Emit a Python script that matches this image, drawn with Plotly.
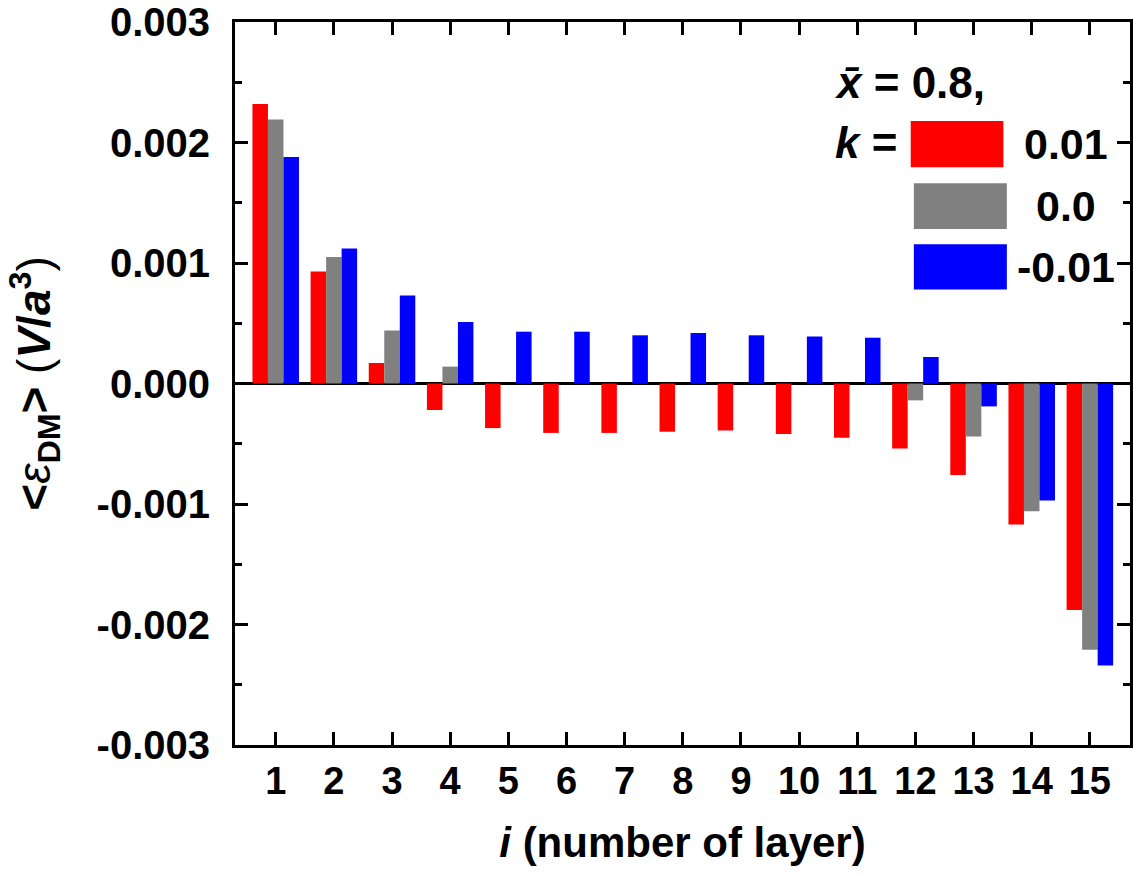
import plotly.graph_objects as go

layers = list(range(1, 16))
k_labels = ["0.01", "0.0", "-0.01"]
colors = ["#FF0000", "#808080", "#0000FF"]

e_k_p001 = [0.00232, 0.00093, 0.00017, -0.00022, -0.00037, -0.00041, -0.00041, -0.00040,
            -0.00039, -0.00042, -0.00045, -0.00054, -0.00076, -0.00117, -0.00188]
e_k_0 = [0.00219, 0.00105, 0.00044, 0.00014, 0.0, 0.0, 0.0, 0.0,
         0.0, 0.0, 0.0, -0.00014, -0.00044, -0.00106, -0.00221]
e_k_m001 = [0.00188, 0.00112, 0.00073, 0.00051, 0.00043, 0.00043, 0.00040, 0.00042,
            0.00040, 0.00039, 0.00038, 0.00022, -0.00019, -0.00097, -0.00234]
series = [e_k_p001, e_k_0, e_k_m001]

y_ticks = [-0.003, -0.002, -0.001, 0.0, 0.001, 0.002, 0.003]
y_ticktext = ["-0.003", "-0.002", "-0.001", "0.000", "0.001", "0.002", "0.003"]

FONT = "Liberation Sans, Arial, sans-serif"

fig = go.Figure()
for vals, c, name in zip(series, colors, k_labels):
    fig.add_trace(go.Bar(x=layers, y=vals, name=name, marker=dict(color=c, line=dict(width=0)),
                         showlegend=False))

fig.update_layout(
    width=1133, height=877,
    margin=dict(l=235, r=0, t=22, b=132),
    paper_bgcolor="white", plot_bgcolor="white",
    barmode="group", bargap=0.2, bargroupgap=0,
    font=dict(family=FONT, color="black"),
)

fig.update_xaxes(
    range=[0.3, 15.69], tickmode="array", tickvals=layers, ticktext=[str(v) for v in layers],
    showline=True, linecolor="black", linewidth=3, mirror="ticks",
    ticks="inside", ticklen=13, tickwidth=3, tickcolor="black",
    tickfont=dict(size=38, family=FONT, weight="bold"),
    ticklabelstandoff=0,
    showgrid=False, zeroline=False,
    title=dict(text="<i>i</i> (number of layer)", font=dict(size=42, family=FONT, weight="bold"), standoff=28),
)

fig.update_yaxes(
    range=[-0.003, 0.003], tickmode="array", tickvals=y_ticks, ticktext=y_ticktext,
    showline=True, linecolor="black", linewidth=3, mirror="ticks",
    ticks="inside", ticklen=13, tickwidth=3, tickcolor="black",
    minor=dict(dtick=0.0005, ticks="inside", ticklen=7, tickwidth=3, tickcolor="black", showgrid=False),
    tickfont=dict(size=40, family=FONT, weight="bold"),
    ticklabelstandoff=14,
    showgrid=False, zeroline=True, zerolinecolor="black", zerolinewidth=3,
    title=dict(text="<b>&lt;</b><i>ε</i><sub><b>DM</b></sub><b>&gt;</b> (<b><i>V</i>/<i>a</i></b><sup><b>3</b></sup>)",
               font=dict(size=46, family=FONT, weight="normal"), standoff=32),
)

# legend-like block drawn in paper coordinates
swatch_x = [0.755, 0.7585, 0.7585]
swatch_x1 = [0.8585, 0.8624, 0.8624]
swatch_y0 = [0.799, 0.7137, 0.630]
swatch_y1 = [0.863, 0.777, 0.6925]
for c, x0, x1, y0, y1, lab in zip(colors, swatch_x, swatch_x1, swatch_y0, swatch_y1, k_labels):
    fig.add_shape(type="rect", xref="paper", yref="paper", x0=x0, x1=x1, y0=y0, y1=y1,
                  fillcolor=c, line=dict(width=0))
    fig.add_annotation(xref="paper", yref="paper", x=0.929, y=(y0 + y1) / 2, text="<b>" + lab + "</b>",
                       showarrow=False, xanchor="center", yanchor="middle",
                       font=dict(size=43, family=FONT, color="black"))

fig.add_annotation(xref="paper", yref="paper", x=0.668, y=0.917, text="<b><i>x\u0304</i> = 0.8,</b>",
                   showarrow=False, xanchor="left", yanchor="middle",
                   font=dict(size=44, family=FONT, color="black"))
fig.add_annotation(xref="paper", yref="paper", x=0.668, y=0.834, text="<b><i>k</i> =</b>",
                   showarrow=False, xanchor="left", yanchor="middle",
                   font=dict(size=44, family=FONT, color="black"))

fig.write_html("out.html")
